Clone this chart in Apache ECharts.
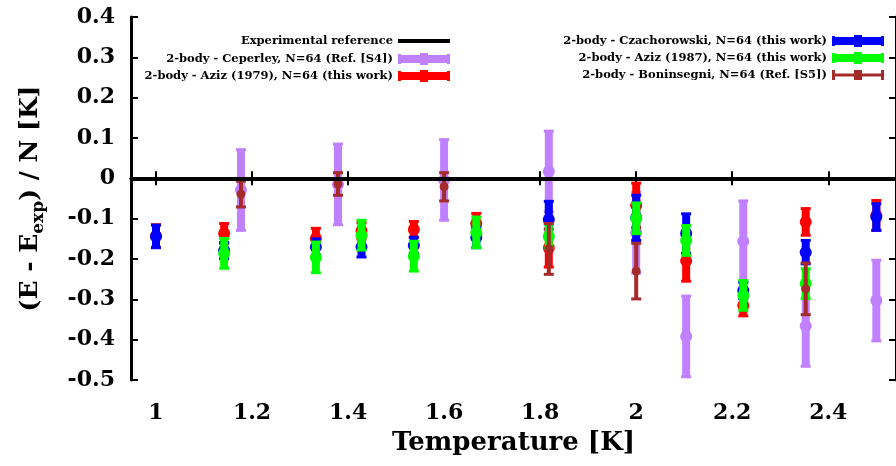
<!DOCTYPE html>
<html><head><meta charset="utf-8">
<script src="https://cdn.jsdelivr.net/npm/echarts@6/dist/echarts.min.js"></script>
<style>html,body{margin:0;padding:0;background:#fff}#c{width:896px;height:466px}</style>
</head><body><div id="c"></div>
<script>
// ---- data ----
const xTicks = [1, 1.2, 1.4, 1.6, 1.8, 2, 2.2, 2.4];
const xTickLabels = ['1', '1.2', '1.4', '1.6', '1.8', '2', '2.2', '2.4'];
const yTickLabels = ['-0.5', '-0.4', '-0.3', '-0.2', '-0.1', '0', '0.1', '0.2', '0.3', '0.4'];

const expRef = 0;

const tempCeperley = [1.177, 1.379, 1.6, 1.818, 2.0, 2.104, 2.223, 2.353, 2.5];
const ceperley     = [-0.029, -0.015, -0.004, 0.017, -0.135, -0.392, -0.156, -0.366, -0.303];
const ceperleyErr  = [0.1, 0.1, 0.1, 0.1, 0.1, 0.1, 0.1, 0.1, 0.1];

const tempMain  = [1.0, 1.142, 1.333, 1.428, 1.537, 1.667, 1.818, 2.0, 2.104, 2.223, 2.353, 2.5];
const aziz79    = [-0.143, -0.137, -0.149, -0.130, -0.127, -0.112, -0.173, -0.067, -0.205, -0.315, -0.108, -0.092];
const aziz79Err = [0.028, 0.025, 0.025, 0.020, 0.020, 0.025, 0.047, 0.055, 0.050, 0.026, 0.033, 0.037];
const czach     = [-0.144, -0.179, -0.170, -0.170, -0.166, -0.147, -0.102, -0.098, -0.137, -0.278, -0.183, -0.096];
const czachErr  = [0.028, 0.020, 0.020, 0.025, 0.020, 0.025, 0.045, 0.056, 0.049, 0.020, 0.029, 0.033];

const tempAziz87 = [1.142, 1.333, 1.428, 1.537, 1.667, 1.818, 2.0, 2.104, 2.223, 2.353];
const aziz87     = [-0.186, -0.196, -0.141, -0.193, -0.134, -0.144, -0.099, -0.154, -0.290, -0.261];
const aziz87Err  = [0.037, 0.038, 0.037, 0.037, 0.038, 0.030, 0.038, 0.037, 0.037, 0.037];

const tempBonin = [1.177, 1.379, 1.6, 1.818, 2.0, 2.353];
const bonin     = [-0.039, -0.014, -0.021, -0.175, -0.230, -0.274];
const boninErr  = [0.032, 0.028, 0.035, 0.063, 0.069, 0.064];

// ---- styling ----
const FONT = '"DejaVu Serif", serif';
const C = { exp: '#000000', cep: '#c080ff', a79: '#ff0000', cz: '#0000ff', a87: '#00ff00', bon: '#a52a2a' };

function zip(t, v, e) { return t.map((x, i) => [x, v[i], e[i]]); }

function errRender(o) {
  return function (params, api) {
    const x = api.value(0), y = api.value(1), e = api.value(2);
    const c = api.coord([x, y]);
    const t = api.coord([x, y + e]);
    const b = api.coord([x, y - e]);
    const col = api.visual('color');
    const ch = [
      { type: 'rect', shape: { x: c[0] - o.bw / 2, y: t[1], width: o.bw, height: b[1] - t[1] }, style: { fill: col } },
      { type: 'rect', shape: { x: c[0] - o.cw / 2, y: t[1] - o.ch / 2, width: o.cw, height: o.ch }, style: { fill: col } },
      { type: 'rect', shape: { x: c[0] - o.cw / 2, y: b[1] - o.ch / 2, width: o.cw, height: o.ch }, style: { fill: col } },
      { type: 'circle', shape: { cx: c[0], cy: c[1], r: o.r }, style: { fill: col } }
    ];
    return { type: 'group', children: ch };
  };
}
const thick = { bw: 8, cw: 10, ch: 3, r: 6 };
const thin = { bw: 4, cw: 10, ch: 3, r: 4.5 };

function errSeries(name, data, color, o) {
  return {
    name, type: 'custom', clip: true, renderItem: errRender(o),
    itemStyle: { color }, data, encode: { x: 0, y: 1 }, z: 2
  };
}

const iconThick = 'path://M0 3 L52 3 L52 11 L0 11 Z M0 2 L3 2 L3 12 L0 12 Z M49 2 L52 2 L52 12 L49 12 Z M22 1 L30 1 L30 13 L22 13 Z';
const iconThin = 'path://M0 5.5 L52 5.5 L52 8.5 L0 8.5 Z M0 2 L3 2 L3 12 L0 12 Z M49 2 L52 2 L52 12 L49 12 Z M22 2 L30 2 L30 12 L22 12 Z';
const iconLine = 'path://M0 5 L52 5 L52 9 L0 9 Z M0 0 L0.01 0 L0.01 14 L0 14 Z';

const legendText = { fontFamily: FONT, fontWeight: 'bold', fontSize: 11.5, color: '#000' };
const axisFont = { fontFamily: FONT, fontWeight: 'bold', fontSize: 22, color: '#000' };
const axisLine = { show: true, lineStyle: { color: '#000', width: 3 } };
const tickStyle = { show: true, inside: true, length: 7, lineStyle: { color: '#000', width: 2 } };

const chart = echarts.init(document.getElementById('c'), null, { renderer: 'canvas' });
chart.setOption({
  animation: false,
  backgroundColor: '#fff',
  grid: { left: 131, right: 0, top: 17, bottom: 86, containLabel: false },
  legend: [
    {
      orient: 'vertical', align: 'right', right: 441, top: 29, itemWidth: 52, itemHeight: 14, itemGap: 5,
      textStyle: legendText, selectedMode: false,
      data: [
        { name: 'Experimental reference', icon: iconLine },
        { name: '2-body - Ceperley, N=64 (Ref. [S4])', icon: iconThick },
        { name: '2-body - Aziz (1979), N=64 (this work)', icon: iconThick }
      ]
    },
    {
      orient: 'vertical', align: 'right', right: 7, top: 30, itemWidth: 52, itemHeight: 14, itemGap: 5,
      textStyle: legendText, selectedMode: false,
      data: [
        { name: '2-body - Czachorowski, N=64 (this work)', icon: iconThick },
        { name: '2-body - Aziz (1987), N=64 (this work)', icon: iconThick },
        { name: '2-body - Boninsegni, N=64 (Ref. [S5])', icon: iconThin }
      ]
    }
  ],
  xAxis: [
    {
      type: 'value', position: 'bottom', min: 0.948, max: 2.541,
      axisLine, axisTick: Object.assign({ customValues: xTicks }, tickStyle),
      axisLabel: Object.assign({ customValues: xTicks, margin: 22,
        formatter: v => xTickLabels[xTicks.findIndex(t => Math.abs(t - v) < 1e-6)] || '' }, axisFont),
      splitLine: { show: false },
      name: 'Temperature [K]', nameLocation: 'middle', nameGap: 50,
      nameTextStyle: { fontFamily: FONT, fontWeight: 'bold', fontSize: 26, color: '#000' }
    },
    {
      type: 'value', position: 'top', min: 0.948, max: 2.541,
      axisLine, axisTick: Object.assign({ customValues: xTicks }, tickStyle),
      axisLabel: { show: false }, splitLine: { show: false }
    }
  ],
  yAxis: [
    {
      type: 'value', position: 'left', min: -0.5, max: 0.4, interval: 0.1,
      axisLine, axisTick: tickStyle,
      axisLabel: Object.assign({ margin: 16,
        formatter: v => yTickLabels[Math.round((v + 0.5) * 10)] }, axisFont),
      splitLine: { show: false },
      name: '(E - E{sub|exp}) / N [K]', nameLocation: 'middle', nameGap: 84, nameRotate: 90,
      nameTextStyle: {
        fontFamily: FONT, fontWeight: 'bold', fontSize: 25, color: '#000',
        rich: { sub: { fontFamily: FONT, fontWeight: 'bold', fontSize: 17, color: '#000', verticalAlign: 'bottom', padding: [16, 0, 0, 0] } }
      }
    },
    {
      type: 'value', position: 'right', min: -0.5, max: 0.4, interval: 0.1,
      axisLine, axisTick: tickStyle, axisLabel: { show: false }, splitLine: { show: false }
    }
  ],
  series: [
    {
      name: 'Experimental reference', type: 'line', data: [], itemStyle: { color: C.exp },
      lineStyle: { color: C.exp, width: 4 },
      markLine: { silent: true, symbol: 'none', label: { show: false },
        lineStyle: { color: C.exp, width: 4, type: 'solid' }, data: [{ yAxis: expRef }] },
      z: 1
    },
    errSeries('2-body - Ceperley, N=64 (Ref. [S4])', zip(tempCeperley, ceperley, ceperleyErr), C.cep, thick),
    errSeries('2-body - Aziz (1979), N=64 (this work)', zip(tempMain, aziz79, aziz79Err), C.a79, thick),
    errSeries('2-body - Czachorowski, N=64 (this work)', zip(tempMain, czach, czachErr), C.cz, thick),
    errSeries('2-body - Aziz (1987), N=64 (this work)', zip(tempAziz87, aziz87, aziz87Err), C.a87, thick),
    errSeries('2-body - Boninsegni, N=64 (Ref. [S5])', zip(tempBonin, bonin, boninErr), C.bon, thin)
  ]
});
</script>
</body></html>
